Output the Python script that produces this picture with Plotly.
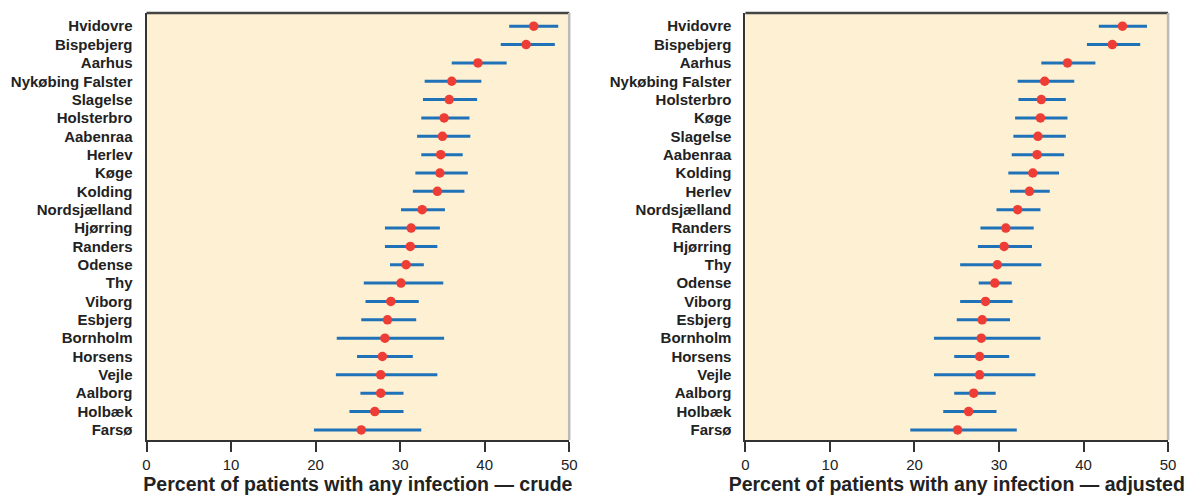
import plotly.graph_objects as go

# ---- data ----
crude_names = ["Hvidovre", "Bispebjerg", "Aarhus", "Nykøbing Falster", "Slagelse", "Holsterbro",
               "Aabenraa", "Herlev", "Køge", "Kolding", "Nordsjælland", "Hjørring", "Randers",
               "Odense", "Thy", "Viborg", "Esbjerg", "Bornholm", "Horsens", "Vejle", "Aalborg",
               "Holbæk", "Farsø"]
crude_est = [45.8, 44.9, 39.2, 36.1, 35.8, 35.2, 35.0, 34.8, 34.7, 34.4, 32.6, 31.3, 31.2,
             30.7, 30.1, 28.9, 28.5, 28.2, 27.9, 27.7, 27.7, 27.0, 25.4]
crude_lo = [42.9, 41.9, 36.1, 32.9, 32.7, 32.5, 32.0, 32.5, 31.8, 31.5, 30.1, 28.2, 28.2,
            28.8, 25.7, 25.9, 25.4, 22.5, 24.9, 22.4, 25.3, 24.0, 19.8]
crude_hi = [48.7, 48.3, 42.6, 39.6, 39.1, 38.2, 38.3, 37.4, 38.0, 37.6, 35.3, 34.7, 34.4,
            32.8, 35.1, 32.2, 31.9, 35.2, 31.5, 34.4, 30.4, 30.4, 32.5]

adj_names = ["Hvidovre", "Bispebjerg", "Aarhus", "Nykøbing Falster", "Holsterbro", "Køge",
             "Slagelse", "Aabenraa", "Kolding", "Herlev", "Nordsjælland", "Randers", "Hjørring",
             "Thy", "Odense", "Viborg", "Esbjerg", "Bornholm", "Horsens", "Vejle", "Aalborg",
             "Holbæk", "Farsø"]
adj_est = [44.6, 43.4, 38.1, 35.4, 35.0, 34.9, 34.6, 34.5, 34.0, 33.6, 32.2, 30.8, 30.6,
           29.8, 29.5, 28.4, 28.0, 27.9, 27.7, 27.7, 27.0, 26.4, 25.1]
adj_lo = [41.8, 40.4, 35.0, 32.2, 32.3, 31.9, 31.7, 31.5, 31.1, 31.3, 29.7, 27.8, 27.5,
          25.4, 27.6, 25.4, 25.0, 22.3, 24.7, 22.3, 24.7, 23.4, 19.5]
adj_hi = [47.5, 46.7, 41.4, 38.9, 37.9, 38.1, 37.9, 37.7, 37.1, 36.0, 34.9, 34.1, 33.9,
          35.0, 31.5, 31.6, 31.3, 34.9, 31.2, 34.3, 29.6, 29.7, 32.1]

x_ticks = [0, 10, 20, 30, 40, 50]
titles = ["Percent of patients with any infection — crude",
          "Percent of patients with any infection — adjusted"]

BLUE = "#1f72b8"
RED = "#ee3d35"
BG = "#fef0d2"
DARK = "#333333"
FONT = "Liberation Sans"

W, H = 1186, 495

fig = go.Figure()

panels = [(crude_names, crude_est, crude_lo, crude_hi),
          (adj_names, adj_est, adj_lo, adj_hi)]

for i, (names, est, lo, hi) in enumerate(panels):
    n = len(names)
    ypos = [n - 1 - k for k in range(n)]
    xs, ys = [], []
    for k in range(n):
        xs += [lo[k], hi[k], None]
        ys += [ypos[k], ypos[k], None]
    xa = "x" if i == 0 else "x2"
    ya = "y" if i == 0 else "y2"
    fig.add_trace(go.Scatter(x=xs, y=ys, mode="lines", line=dict(color=BLUE, width=3),
                             xaxis=xa, yaxis=ya, showlegend=False, hoverinfo="skip"))
    fig.add_trace(go.Scatter(x=est, y=ypos, mode="markers",
                             marker=dict(color=RED, size=9.5, line=dict(width=0)),
                             xaxis=xa, yaxis=ya, showlegend=False, text=names))

doms_x = [[144 / W, 571 / W], [749 / W, 1176 / W]]
dom_y = [1 - 440 / H, 1 - 13 / H]

layout = dict(width=W, height=H, margin=dict(l=0, r=0, t=0, b=0),
              paper_bgcolor="white", plot_bgcolor=BG, showlegend=False)

for i, (names, *_rest) in enumerate(panels):
    n = len(names)
    sx = "xaxis" if i == 0 else "xaxis2"
    sy = "yaxis" if i == 0 else "yaxis2"
    layout[sx] = dict(domain=doms_x[i], range=[0, 50], tickvals=x_ticks,
                      ticktext=[str(t) for t in x_ticks],
                      ticks="outside", ticklen=10, tickwidth=1.5, tickcolor=DARK,
                      showline=True, linecolor=DARK, linewidth=2, showgrid=False,
                      zeroline=False, anchor="y" if i == 0 else "y2",
                      tickfont=dict(family=FONT, size=15, color="#222222"),
                      title=dict(text="<b>" + titles[i] + "</b>", standoff=6,
                                 font=dict(family=FONT, size=19.5, color="#222222")))
    layout[sy] = dict(domain=dom_y, range=[-0.55, n - 1 + 0.72],
                      tickvals=[n - 1 - k for k in range(n)],
                      ticktext=["<b>" + s + "</b>" for s in names],
                      ticks="", showline=True, linecolor=DARK, linewidth=2,
                      showgrid=False, zeroline=False, ticklabelstandoff=9,
                      anchor="x" if i == 0 else "x2",
                      tickfont=dict(family=FONT, size=15, color="#222222"))

fig.update_layout(**layout)

# top (dark) and right (light grey) frame edges
for i in range(2):
    xr = "x domain" if i == 0 else "x2 domain"
    yr = "y domain" if i == 0 else "y2 domain"
    fig.add_shape(type="line", xref=xr, yref=yr, x0=0, x1=1, y0=1, y1=1,
                  line=dict(color="#444444", width=2.5))
    fig.add_shape(type="line", xref=xr, yref=yr, x0=1, x1=1, y0=0, y1=1,
                  line=dict(color="#bbbbbb", width=2.5))

fig.write_html("out.html", config={"displayModeBar": False},
               post_script="document.body.style.margin='0px';"
                           "document.documentElement.style.overflow='hidden';")
